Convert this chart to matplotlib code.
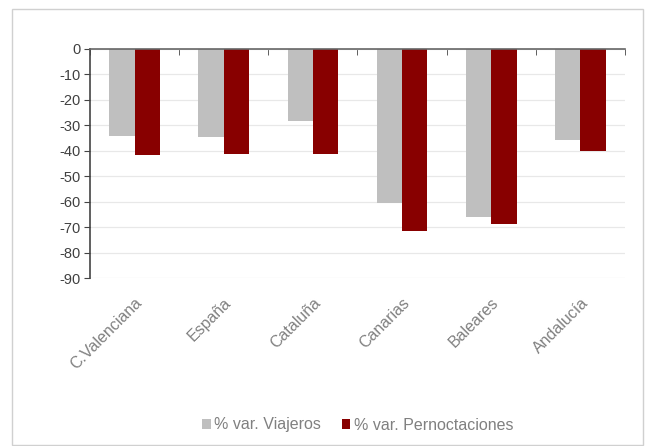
import matplotlib
matplotlib.use("Agg")
import matplotlib.pyplot as plt
import matplotlib.transforms as mtransforms
import numpy as np
from matplotlib.patches import Rectangle

categories = ["C.Valenciana", "España", "Cataluña", "Canarias", "Baleares", "Andalucía"]
viajeros = [-34.0, -34.5, -28.3, -60.5, -66.0, -35.6]
pernoctaciones = [-41.8, -41.4, -41.4, -71.7, -68.9, -39.9]
series_labels = ["% var. Viajeros", "% var. Pernoctaciones"]
yticks = list(range(0, -100, -10))

plt.rcParams['font.family'] = ['Liberation Sans', 'DejaVu Sans']

fig = plt.figure(figsize=(6.52, 4.46), dpi=100)
fig.patches.append(Rectangle((12/652, 1 - 445/446), 631/652, 436/446, transform=fig.transFigure,
                             fill=False, edgecolor="#d0d0d0", linewidth=1.0))
ax = fig.add_axes([90/652, 1 - 278/446, 535/652, 229/446])

x = np.arange(len(categories))
w = 0.285
ax.bar(x - w/2, viajeros, w, color="#bfbfbf", label=series_labels[0], zorder=2)
ax.bar(x + w/2, pernoctaciones, w, color="#880000", label=series_labels[1], zorder=2)

ax.set_ylim(-90, 0)
ax.set_xlim(-0.5, len(categories) - 0.5)
ax.set_yticks(yticks)
ax.set_yticklabels([str(t) for t in yticks], fontsize=10.5, color="#404040")
ax.yaxis.grid(True, color="#e8e8e8", linewidth=0.9, zorder=0)
ax.set_axisbelow(True)

for s in ["right", "bottom"]:
    ax.spines[s].set_visible(False)
ax.spines["left"].set_color("#444444")
ax.spines["top"].set_color("#666666")
ax.spines["left"].set_linewidth(1.2)
ax.spines["top"].set_linewidth(1.2)
ax.tick_params(axis="y", direction="out", length=4, color="#444444", pad=3)

# category separator ticks on the top (zero) axis
ax.set_xticks(np.arange(-0.5, len(categories)), minor=True)
ax.set_xticks(x)
ax.tick_params(axis="x", which="major", length=0, bottom=True, top=False)
ax.tick_params(axis="x", which="minor", length=4, direction="in", top=True, bottom=False,
               color="#444444", labelbottom=False)
ax.set_xticklabels(categories, rotation=45, ha="right", va="top", fontsize=11.5, color="#808080",
                   rotation_mode="anchor")
offset = mtransforms.ScaledTranslation(0, -4/100, fig.dpi_scale_trans)
for lbl in ax.get_xticklabels():
    lbl.set_y(-0.035)
    lbl.set_transform(lbl.get_transform() + offset)

leg = ax.legend(loc="center", bbox_to_anchor=(0.5, 1 - (425 - 49) / 229), ncol=2, frameon=False,
                fontsize=11.5, handlelength=0.55, handleheight=0.55, handletextpad=0.2,
                columnspacing=1.3, labelcolor="#808080")

fig.savefig("out.png", dpi=100)
